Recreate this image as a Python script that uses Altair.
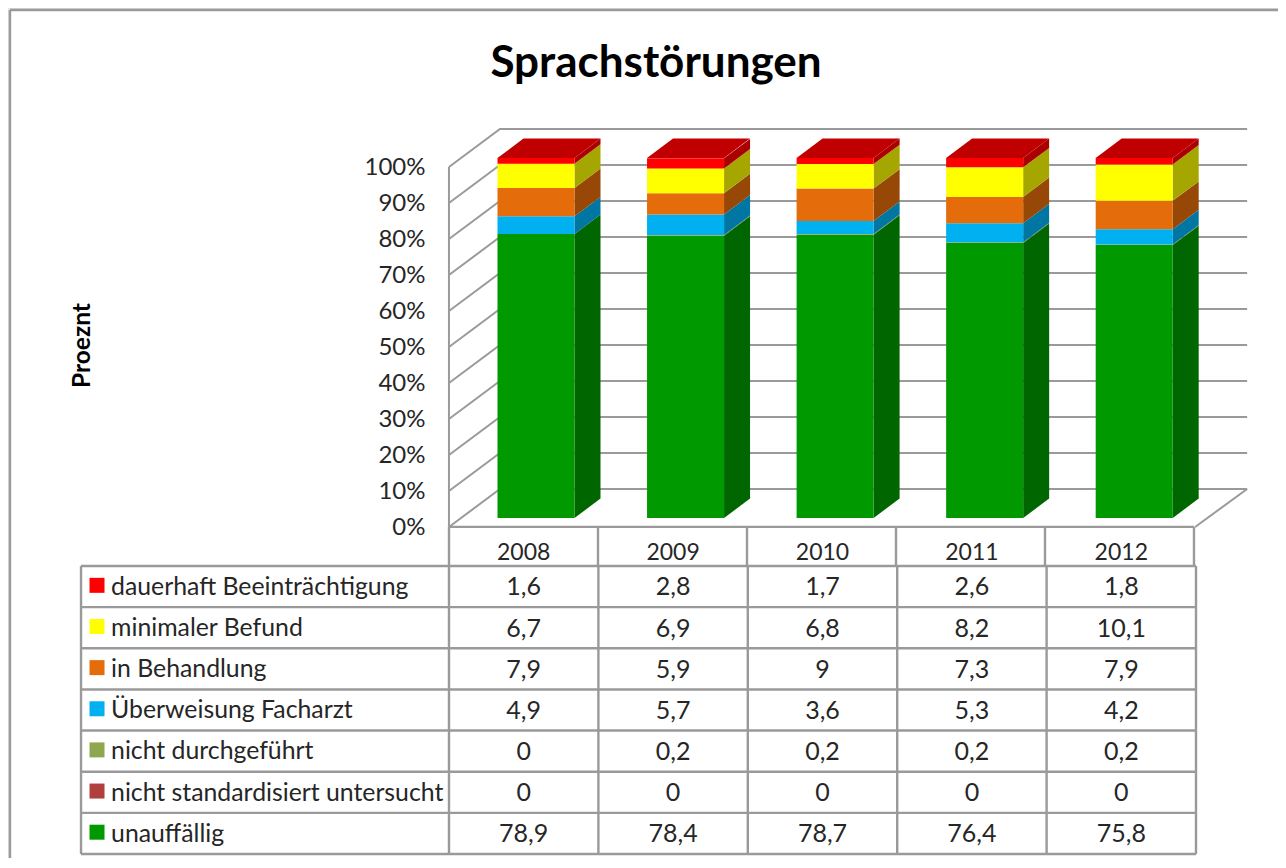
import altair as alt
import pandas as pd

years = [2008, 2009, 2010, 2011, 2012]
series = ["unauffällig", "nicht standardisiert untersucht", "nicht durchgeführt",
          "Überweisung Facharzt", "in Behandlung", "minimaler Befund", "dauerhaft Beeinträchtigung"]
unauffaellig = [78.9, 78.4, 78.7, 76.4, 75.8]
nicht_standardisiert = [0, 0, 0, 0, 0]
nicht_durchgefuehrt = [0, 0.2, 0.2, 0.2, 0.2]
ueberweisung = [4.9, 5.7, 3.6, 5.3, 4.2]
behandlung = [7.9, 5.9, 9, 7.3, 7.9]
minimal = [6.7, 6.9, 6.8, 8.2, 10.1]
dauerhaft = [1.6, 2.8, 1.7, 2.6, 1.8]
all_values = [unauffaellig, nicht_standardisiert, nicht_durchgefuehrt, ueberweisung,
              behandlung, minimal, dauerhaft]
front_colors = ["#009900", "#B0403E", "#8FA84F", "#00B0F0", "#E46C0A", "#FFFF00", "#FF0000"]
side_colors = ["#006600", "#7A2A28", "#64753A", "#0076A3", "#974706", "#A6A600", "#AA0000"]
top_color = "#C00000"
ticks = [0, 10, 20, 30, 40, 50, 60, 70, 80, 90, 100]

FONT = "Lato"
TXT = "#262626"
GRID = "#9A9A9A"
W, H = 1270, 850

# 3D geometry, in data units
half_bar = 0.2575      # half a bar's width, in years
bar_dx = 0.1738        # bar depth along x, in years
bar_dy = 5.4           # bar depth along y, in percent
bar_lift = 2.5         # bar base above the front floor edge, in percent
wall_dy = 10.56        # wall depth along y, in percent
x_front_left, x_back_left = 2007.418, 2007.759
x_front_right, x_back_right = 2012.407, 2012.755

xs3d = alt.Scale(domain=[2008, 2012], range=[528.0, 1126.2], nice=False, zero=False, clamp=False)
ys3d = alt.Scale(domain=[0, 100], range=[519, 159], nice=False, zero=False)
xt = alt.Scale(domain=[0, 5], range=[441, 1188], nice=False, zero=False)
yt = alt.Scale(domain=[0, 7], range=[558, 846], nice=False, zero=False)

# stacked segments
seg = []
for s, vals, fc, sc in zip(series, all_values, front_colors, side_colors):
    for i, y in enumerate(years):
        base = sum(all_values[k][i] for k in range(series.index(s)))
        seg.append(dict(series=s, year=y, v=vals[i], lo=base + bar_lift, hi=base + vals[i] + bar_lift,
                        front=fc, side=sc))
seg = pd.DataFrame(seg)
seg = seg[seg.v > 0]
seg["x0"] = seg.year - half_bar
seg["x1"] = seg.year + half_bar

front = alt.Chart(seg).mark_rect(strokeWidth=0).encode(
    x=alt.X("x0:Q", scale=xs3d, axis=None), x2="x1:Q",
    y=alt.Y("lo:Q", scale=ys3d, axis=None), y2="hi:Q",
    color=alt.Color("front:N", scale=None))

side_rows = []
for r in seg.itertuples():
    key = f"{r.series}-{r.year}"
    side_rows.append(dict(key=key, x=r.x1, lo=r.lo, hi=r.hi, c=r.side))
    side_rows.append(dict(key=key, x=r.x1 + bar_dx, lo=r.lo + bar_dy, hi=r.hi + bar_dy, c=r.side))
side = alt.Chart(pd.DataFrame(side_rows)).mark_area(strokeWidth=0).encode(
    x=alt.X("x:Q", scale=xs3d, axis=None),
    y=alt.Y("lo:Q", scale=ys3d, axis=None), y2="hi:Q",
    color=alt.Color("c:N", scale=None), detail="key:N")

top_level = 100 + bar_lift
top_rows = []
for y in years:
    top_rows.append(dict(year=y, l=y - half_bar, r=y + half_bar, yy=top_level))
    top_rows.append(dict(year=y, l=y - half_bar + bar_dx, r=y + half_bar + bar_dx, yy=top_level + bar_dy))
top = alt.Chart(pd.DataFrame(top_rows)).mark_area(orient="horizontal", color=top_color, strokeWidth=0).encode(
    y=alt.Y("yy:Q", scale=ys3d, axis=None),
    x=alt.X("l:Q", scale=xs3d, axis=None), x2="r:Q", detail="year:N")

# walls and gridlines
grid_rows = []
for g in ticks:
    grid_rows.append(dict(g=g, x=x_front_left, y=g))
    grid_rows.append(dict(g=g, x=x_back_left, y=g + wall_dy))
    grid_rows.append(dict(g=g, x=x_back_right, y=g + wall_dy))
grid_rows.append(dict(g=-1, x=x_front_right, y=0))
grid_rows.append(dict(g=-1, x=x_back_right, y=wall_dy))
grid_rows.append(dict(g=-2, x=x_front_left, y=0))
grid_rows.append(dict(g=-2, x=x_front_left, y=100))
grid = alt.Chart(pd.DataFrame(grid_rows)).mark_line(color=GRID, strokeWidth=2).encode(
    x=alt.X("x:Q", scale=xs3d, axis=None),
    y=alt.Y("y:Q", scale=ys3d, axis=alt.Axis(
        values=ticks, labelExpr="datum.value + '%'", domain=False, ticks=False, grid=False,
        orient="left", offset=-417, labelPadding=0, labelFont=FONT, labelFontSize=24,
        labelColor=TXT, title="Proeznt", titleFont=FONT, titleFontSize=24.5, titleFontWeight="bold",
        titleColor="#000000", titleAngle=270, titleX=-343, titleY=337, titleAnchor="middle",
        titleAlign="center", titleBaseline="middle")),
    detail="g:N")

# data table
row_order = series[::-1]
table_vals = [all_values[series.index(s)] for s in row_order]
table_cols = [front_colors[series.index(s)] for s in row_order]

h_rows = [dict(x=-2.463, x2=5, y=i) for i in range(8)] + [dict(x=0, x2=4.987, y=-0.95)]
hlines = alt.Chart(pd.DataFrame(h_rows)).mark_rule(color=GRID, strokeWidth=2.4).encode(
    x=alt.X("x:Q", scale=xt, axis=None), x2="x2:Q", y=alt.Y("y:Q", scale=yt, axis=None))
v_rows = [dict(x=i, y=0, y2=7) for i in range(6)] + [dict(x=-2.463, y=0, y2=7)] + \
         [dict(x=i * 0.9973, y=-0.95, y2=0) for i in range(6)]
vlines = alt.Chart(pd.DataFrame(v_rows)).mark_rule(color=GRID, strokeWidth=2.4).encode(
    x=alt.X("x:Q", scale=xt, axis=None), y=alt.Y("y:Q", scale=yt, axis=None), y2="y2:Q")

head = alt.Chart(pd.DataFrame(dict(x=[i + 0.5 for i in range(5)], y=[-0.31] * 5, t=[str(y) for y in years]))
                 ).mark_text(font=FONT, fontSize=23, color=TXT, baseline="middle").encode(
    x=alt.X("x:Q", scale=xt, axis=None), y=alt.Y("y:Q", scale=yt, axis=None), text="t:N")

cells = []
labels = []
for r, (s, vals, c) in enumerate(zip(row_order, table_vals, table_cols)):
    labels.append(dict(x=-2.262, y=r + 0.53, t=s, c=c, sx=-2.356, sy=r + 0.47))
    for i, v in enumerate(vals):
        cells.append(dict(x=i + 0.5, y=r + 0.52, t=f"{v:g}".replace(".", ",")))
cell_text = alt.Chart(pd.DataFrame(cells)).mark_text(font=FONT, fontSize=25, color=TXT, baseline="middle").encode(
    x=alt.X("x:Q", scale=xt, axis=None), y=alt.Y("y:Q", scale=yt, axis=None), text="t:N")
labels = pd.DataFrame(labels)
label_text = alt.Chart(labels).mark_text(font=FONT, fontSize=24.8, color=TXT, baseline="middle", align="left").encode(
    x=alt.X("x:Q", scale=xt, axis=None), y=alt.Y("y:Q", scale=yt, axis=None), text="t:N")
swatch = alt.Chart(labels).mark_square(size=225, opacity=1).encode(
    x=alt.X("sx:Q", scale=xt, axis=None), y=alt.Y("sy:Q", scale=yt, axis=None),
    color=alt.Color("c:N", scale=None))

# outer frame
frame_h = alt.Chart(pd.DataFrame(dict(a=[0]))).mark_rule(color=GRID, strokeWidth=2.4).encode(
    x=alt.value(2), x2=alt.value(W), y=alt.value(2))
frame_v = alt.Chart(pd.DataFrame(dict(a=[0]))).mark_rule(color=GRID, strokeWidth=2.4).encode(
    x=alt.value(2), y=alt.value(2), y2=alt.value(H))

chart = alt.layer(frame_h, frame_v, grid, side, front, top, hlines, vlines, head, cell_text, label_text, swatch
                  ).resolve_scale(x="independent", y="independent").properties(
    width=W, height=H, padding=0, autosize=alt.AutoSizeParams(type="none"),
    title=alt.TitleParams("Sprachstörungen", font=FONT, fontSize=44, fontWeight="bold", color="#000000",
                          anchor="middle", dx=13, dy=113, offset=0, baseline="alphabetic"),
).configure_view(stroke=None).configure(background="white")

chart.save("out.html", embed_options={"renderer": "svg", "actions": False})
